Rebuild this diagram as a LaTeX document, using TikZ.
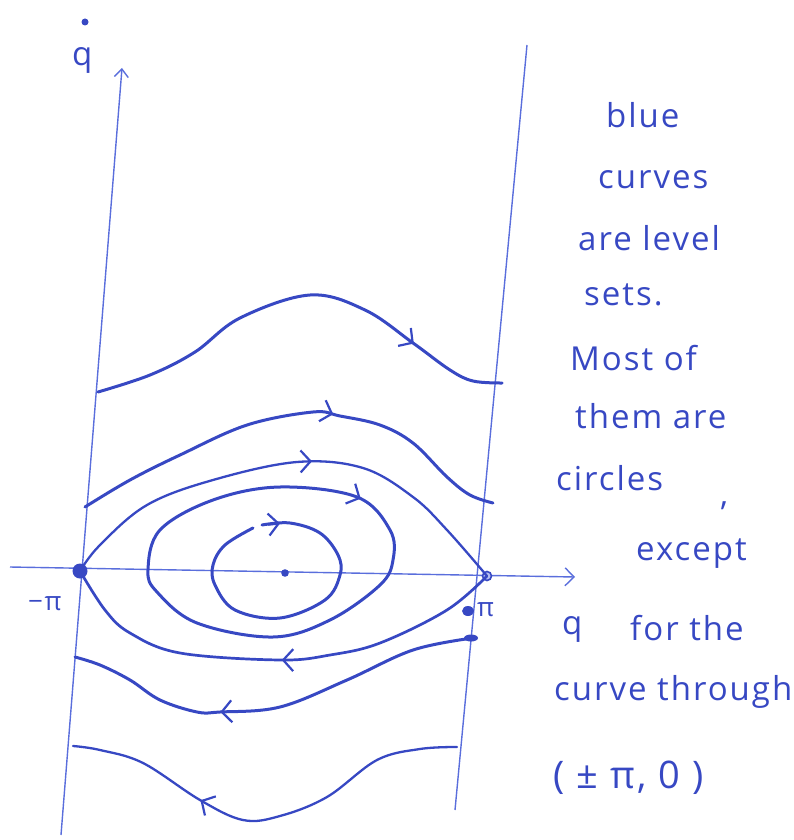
\documentclass[tikz,border=0pt]{standalone}
\usepackage{fontspec}
\newfontfamily\hand[LetterSpace=6]{Open Sans}
\usetikzlibrary{arrows.meta,decorations.markings}
\definecolor{ink}{RGB}{55,72,195}
\definecolor{axisink}{RGB}{90,110,220}
\begin{document}
\begin{tikzpicture}[x=1pt,y=-1pt,
  axisline/.style={draw=axisink, line width=1.4pt},
  orbit/.style={draw=ink, line width=3pt, line cap=round, line join=round},
  flowmark/.style={postaction={decorate}, decoration={markings,
      mark=at position #1 with {\arrow[ink, line width=2.2pt]{Straight Barb[length=10pt, width=22pt]}}}},
  barb/.style={draw=ink, line width=2.2pt, -{Straight Barb[length=10pt, width=22pt]}},
  txt/.style={text=ink, font=\hand\fontsize{33}{38}\selectfont, anchor=base west, inner sep=0pt},
  smalltxt/.style={text=ink, font=\hand\fontsize{26}{30}\selectfont, anchor=base west, inner sep=0pt}]
\useasboundingbox (0,0) rectangle (794,840);

% axes
\coordinate (ylo) at (61,835);
\coordinate (yhi) at (122,68);
\coordinate (rtop) at (527,45);
\coordinate (rbot) at (455,810);
\coordinate (xlo) at (10,567);
\coordinate (xhi) at (575,577);
\draw[axisline, -{Straight Barb[length=8pt, width=14pt]}] (ylo) -- (yhi);
\draw[axisline] (rtop) -- (rbot);
\draw[axisline, -{Straight Barb[length=9pt, width=18pt]}] (xlo) -- (xhi);

% equilibria
\coordinate (mpi) at (80,571);
\coordinate (ppi) at (487,576);
\coordinate (ctr) at (285,573);
\fill[ink] (mpi) circle[radius=7.5pt];
\draw[ink, line width=1.6pt, fill=axisink!45] (ppi) circle[radius=4.5pt];
\fill[ink] (ctr) circle[radius=3.8pt];

% top open curve
\draw[orbit, flowmark=0.78] plot[smooth, tension=0.6] coordinates
  {(98,392) (150,375) (195,352) (240,318) (310,295) (365,310) (413,343) (450,370) (473,381) (502,383)};
% second open curve
\draw[orbit, flowmark=0.59] plot[smooth, tension=0.6] coordinates
  {(85,507) (130,480) (180,455) (247,425) (313,412) (340,416) (380,425) (413,443) (447,477) (470,495) (493,503)};
% separatrix upper
\draw[orbit, line width=2.3pt, flowmark=0.55] plot[smooth, tension=0.6] coordinates
  {(mpi) (100,545) (147,505) (213,480) (297,462) (363,468) (413,497) (447,530) (ppi)};
% separatrix lower
\draw[orbit, line width=2.7pt, flowmark=0.49] plot[smooth, tension=0.6] coordinates
  {(ppi) (447,610) (380,643) (330,655) (280,660) (180,653) (130,633) (105,610) (mpi)};
% big closed orbit
\draw[orbit, flowmark=0.335] plot[smooth cycle, tension=0.6] coordinates
  {(148,570) (160,530) (213,500) (280,487) (357,497) (390,530) (393,560) (380,585) (330,620) (273,637) (197,623) (157,592)};
% inner closed orbit
\draw[orbit] plot[smooth, tension=0.6] coordinates
  {(262,525) (290,523) (320,533) (338,555) (340,575) (325,600) (280,618) (235,610) (215,585) (213,565) (225,545) (253,528)};
\coordinate (ia) at (268,524.6);
\coordinate (ib) at (280,523.5);
\draw[barb] (ia) -- (ib);
% open curve below separatrix
\draw[orbit, flowmark=0.627] plot[smooth, tension=0.6] coordinates
  {(473,638) (413,650) (347,680) (280,707) (220,712) (197,712) (160,700) (130,680) (100,665) (75,657)};
\fill[ink] (471,638) ellipse[x radius=7pt, y radius=3.5pt];
% lowest open curve
\draw[orbit, line width=2.3pt, flowmark=0.665] plot[smooth, tension=0.6] coordinates
  {(457,747) (420,749) (377,760) (327,797) (280,816) (243,820) (200,800) (143,763) (100,750) (73,746)};

% axis labels
\node[txt] (qdotq) at (72,66) {q};
\fill[ink] (85,22) circle[radius=3.5pt];
\node[txt] (qlab) at (562,634) {q};
\node[smalltxt] (mpilab) at (28,610) {−π};
\fill[ink] (468,611) ellipse[x radius=6pt, y radius=5pt];
\node[smalltxt] (ppilab) at (477,616) {π};

% annotation text
\node[txt] (t1) at (606,128) {blue};
\node[txt] (t2) at (598,188) {curves};
\node[txt] (t3) at (578,250) {are level};
\node[txt] (t4) at (584,305) {sets.};
\node[txt] (t5) at (570,370) {Most of};
\node[txt] (t6) at (575,428) {them are};
\node[txt] (t7) at (556,490) {circles};
\node[txt] (t7c) at (720,505) {,};
\node[txt] (t8) at (636,560) {except};
\node[txt] (t9) at (630,640) {for the};
\node[txt] (t10) at (554,700) {curve through};
\node[txt, font=\hand\fontsize{38}{44}\selectfont] (t11) at (553,788) {( ± π, 0 )};
\end{tikzpicture}
\end{document}
